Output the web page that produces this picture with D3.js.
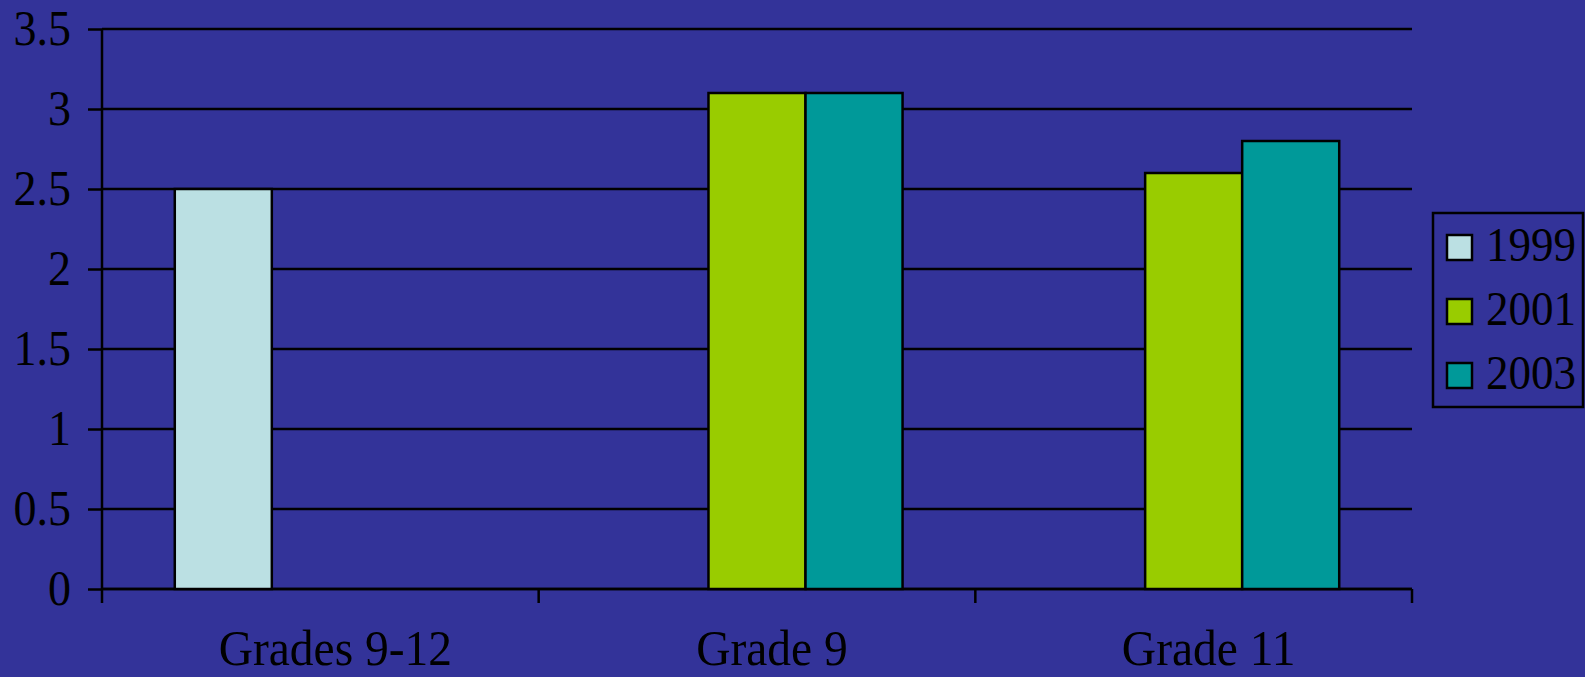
<!DOCTYPE html>
<html>
<head>
<meta charset="utf-8">
<script src="https://cdn.jsdelivr.net/npm/d3@7"></script>
<style>
  body { margin: 0; background: #333399; }
  text { font-family: "Liberation Serif", "Times New Roman", serif; fill: #000; }
</style>
</head>
<body>
<svg id="chart" width="1585" height="677"></svg>
<script>
// data
var categories = ["Grades 9-12", "Grade 9", "Grade 11"]
var years = ["1999", "2001", "2003"]
var values1999 = [2.5, null, null]
var values2001 = [null, 3.1, 2.6]
var values2003 = [null, 3.1, 2.8]
var yTicks = [0, 0.5, 1, 1.5, 2, 2.5, 3, 3.5]
var colors = ["#BBE0E3", "#99CC00", "#009999"]

var series = [values1999, values2001, values2003]

var svg = d3.select('#chart')
var width = +svg.attr('width')
var height = +svg.attr('height')
var margin = { left: 102, right: 173, top: 29, bottom: 88 }
var stretch = 'scale(1,1.08)' // the reference glyphs are a bit taller than Liberation Serif

svg.append('rect').attr('width', width).attr('height', height).attr('fill', '#333399')

var x0 = d3.scaleBand()
    .domain(categories)
    .range([margin.left, width - margin.right])
    .padding(0)
var x1 = d3.scaleBand()
    .domain(years)
    .range([0, x0.bandwidth()])
    .paddingInner(0)
    .paddingOuter(0.75)
var yscale = d3.scaleLinear()
    .domain([0, 3.5])
    .range([height - margin.bottom, margin.top])

// gridlines
svg.append('g').selectAll('line').data(yTicks).enter()
    .append('line')
    .attr('x1', margin.left).attr('x2', width - margin.right)
    .attr('y1', d => yscale(d)).attr('y2', d => yscale(d))
    .attr('stroke', '#000').attr('stroke-width', 2.5)

// y axis
var yAxis = svg.append('g')
    .attr('transform', 'translate(' + margin.left + ',0)')
    .call(d3.axisLeft(yscale).tickValues(yTicks).tickFormat(d => String(d)).tickSize(14).tickPadding(17))
yAxis.selectAll('path, line').attr('stroke', '#000').attr('stroke-width', 2.5)
yAxis.selectAll('text').attr('font-size', 46).attr('fill', '#000')
    .attr('transform', stretch)
    .style('font-family', '"Liberation Serif", "Times New Roman", serif')
yAxis.select('.domain').attr('d', 'M0,' + yscale(0) + 'V' + yscale(3.5))

// x axis line and ticks at category boundaries
var bounds = categories.map(c => x0(c)).concat([x0.range()[1]])
svg.append('line')
    .attr('x1', margin.left).attr('x2', width - margin.right)
    .attr('y1', yscale(0)).attr('y2', yscale(0))
    .attr('stroke', '#000').attr('stroke-width', 2.5)
svg.append('g').selectAll('line').data(bounds).enter()
    .append('line')
    .attr('x1', d => d).attr('x2', d => d)
    .attr('y1', yscale(0)).attr('y2', yscale(0) + 14)
    .attr('stroke', '#000').attr('stroke-width', 2.5)

svg.append('g').selectAll('text').data(categories).enter()
    .append('text')
    .attr('transform', d => 'translate(' + (x0(d) + x0.bandwidth() / 2 + 15) + ',665) ' + stretch)
    .attr('text-anchor', 'middle')
    .attr('font-size', 47.5)
    .text(d => d)

// bars
var barData = []
categories.forEach(function (c, i) {
    years.forEach(function (yr, j) {
        if (series[j][i] != null) barData.push({ cat: c, year: yr, value: series[j][i], color: colors[j] })
    })
})
svg.append('g').selectAll('rect').data(barData).enter()
    .append('rect')
    .attr('x', d => x0(d.cat) + x1(d.year))
    .attr('y', d => yscale(d.value))
    .attr('width', x1.bandwidth())
    .attr('height', d => yscale(0) - yscale(d.value))
    .attr('fill', d => d.color)
    .attr('stroke', '#000')
    .attr('stroke-width', 2.5)

// legend
var legend = svg.append('g')
legend.append('rect')
    .attr('x', 1433).attr('y', 213)
    .attr('width', 150).attr('height', 194)
    .attr('fill', 'none').attr('stroke', '#000').attr('stroke-width', 2.5)
var items = legend.selectAll('g.item').data(years).enter()
    .append('g').attr('class', 'item')
    .attr('transform', (d, i) => 'translate(1447,' + (235 + i * 64) + ')')
items.append('rect')
    .attr('width', 25).attr('height', 25)
    .attr('fill', (d, i) => colors[i])
    .attr('stroke', '#000').attr('stroke-width', 2.5)
items.append('text')
    .attr('transform', 'translate(39,26) ' + stretch)
    .attr('font-size', 45)
    .text(d => d)
</script>
</body>
</html>
